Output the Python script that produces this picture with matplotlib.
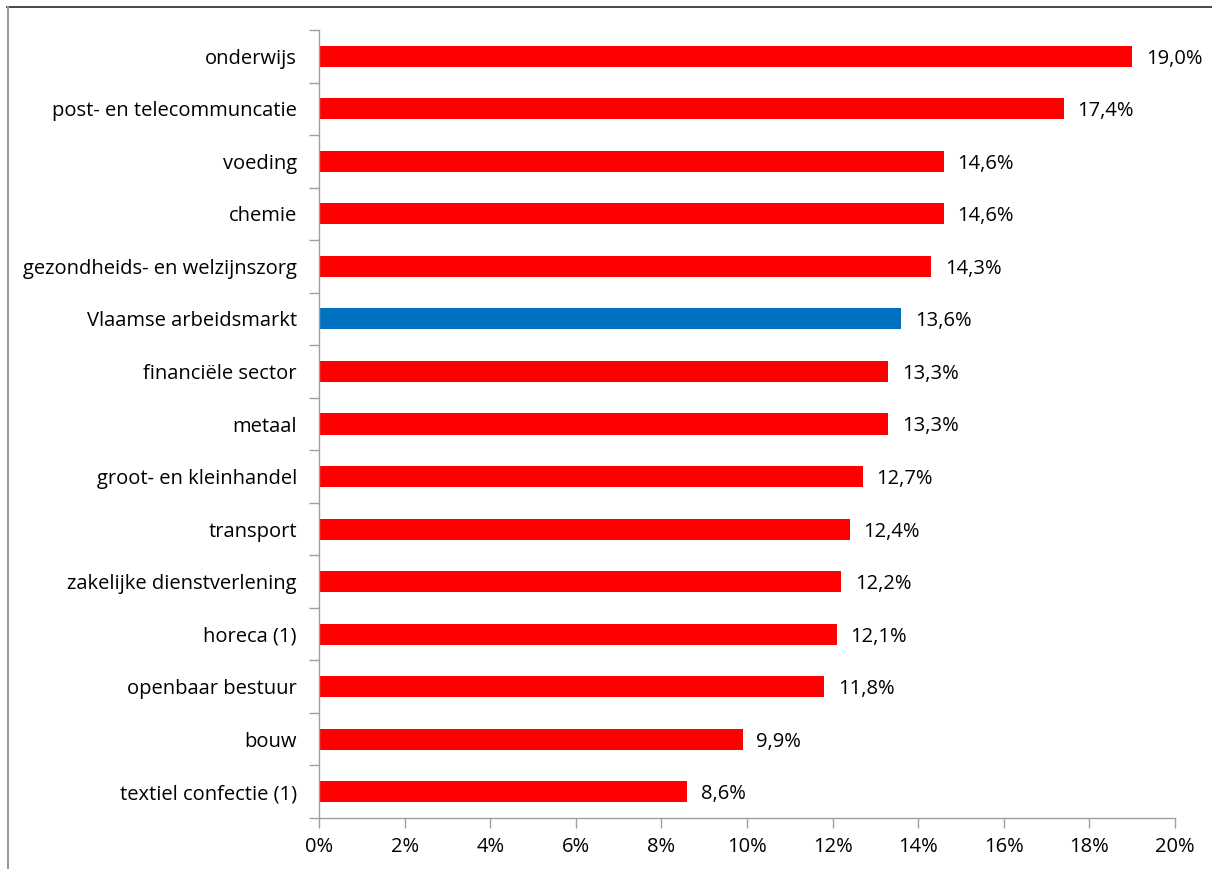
import matplotlib
matplotlib.use("Agg")
import matplotlib.pyplot as plt
from matplotlib.lines import Line2D
from matplotlib.ticker import FixedLocator, NullFormatter, FuncFormatter

plt.rcParams["font.family"] = ["Open Sans", "DejaVu Sans"]

categories = [
    "onderwijs",
    "post- en telecommuncatie",
    "voeding",
    "chemie",
    "gezondheids- en welzijnszorg",
    "Vlaamse arbeidsmarkt",
    "financiële sector",
    "metaal",
    "groot- en kleinhandel",
    "transport",
    "zakelijke dienstverlening",
    "horeca (1)",
    "openbaar bestuur",
    "bouw",
    "textiel confectie (1)",
]
values = [19.0, 17.4, 14.6, 14.6, 14.3, 13.6, 13.3, 13.3, 12.7, 12.4, 12.2, 12.1, 11.8, 9.9, 8.6]
highlight = "Vlaamse arbeidsmarkt"
x_ticks = [0, 2, 4, 6, 8, 10, 12, 14, 16, 18, 20]

W, H = 1212, 869
FS = 14.5
fig = plt.figure(figsize=(W / 100, H / 100), dpi=100)
ax = fig.add_axes([319 / W, 1 - 818 / H, (1175 - 319) / W, (818 - 30) / H])

n = len(categories)
ypos = list(range(n))
colors = ["#0070C0" if c == highlight else "#FF0000" for c in categories]
ax.barh(ypos, values, height=0.4, color=colors, edgecolor="none")

for y, v in zip(ypos, values):
    ax.text(v + 0.32, y, f"{v:.1f}%".replace(".", ","), va="center_baseline", ha="left",
            fontsize=FS, color="#000000")

ax.set_xlim(0, 20)
ax.set_ylim(n - 0.5, -0.5)

ax.xaxis.set_major_locator(FixedLocator(x_ticks))
ax.xaxis.set_major_formatter(FuncFormatter(lambda v, p: f"{v:.0f}%"))

# category labels at bar centres, tick marks at category boundaries
ax.set_yticks(ypos)
ax.set_yticklabels(categories)
ax.set_yticks([i - 0.5 for i in range(n + 1)], minor=True)
ax.yaxis.set_minor_formatter(NullFormatter())
ax.tick_params(axis="y", which="major", length=0, pad=16, labelsize=FS)
ax.tick_params(axis="y", which="minor", length=7, width=1, color="#A0A0A0")
ax.tick_params(axis="x", which="major", length=7, width=1, color="#A0A0A0",
               pad=7, labelsize=FS)

for s in ("top", "right"):
    ax.spines[s].set_visible(False)
for s in ("left", "bottom"):
    ax.spines[s].set_color("#A0A0A0")
    ax.spines[s].set_linewidth(1)

# outer frame
fig.add_artist(Line2D([7 / W, 1], [1 - 7 / H, 1 - 7 / H], transform=fig.transFigure,
                      color="#3A3A3A", linewidth=1.3))
fig.add_artist(Line2D([7.5 / W, 7.5 / W], [1 - 7 / H, 0], transform=fig.transFigure,
                      color="#9A9A9A", linewidth=1.5))

fig.savefig("out.png", dpi=100, facecolor="white")
